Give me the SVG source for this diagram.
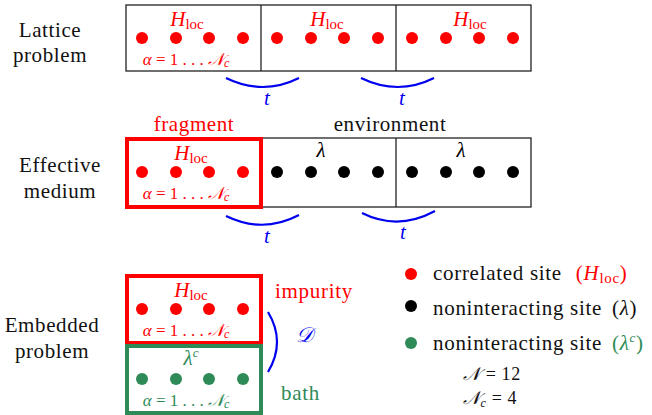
<svg xmlns="http://www.w3.org/2000/svg" width="652" height="415" viewBox="0 0 652 415" font-family="'Liberation Serif', 'DejaVu Serif', serif">
<style>
text{font-family:'Liberation Serif','DejaVu Serif',serif;}
.lbl{font-size:21px;fill:#111;text-anchor:middle;letter-spacing:0.6px;}
.leg{font-size:21px;fill:#111;letter-spacing:0.7px;}
.h{font-size:21px;text-anchor:middle;}
.a{font-size:17px;text-anchor:middle;}
.m{font-style:italic;}
.u{font-style:normal;}
.red{fill:#ff0000;}
.blk{fill:#000;}
.grn{fill:#2e8b57;}
.blue{fill:#0000ee;}
.box{fill:none;stroke:#222;stroke-width:1.3;}
.rbox{fill:none;stroke:#ff0000;stroke-width:4;}
.gbox{fill:none;stroke:#2e8b57;stroke-width:4;}
.arc{fill:none;stroke:#0000ee;stroke-width:2.2;}
.nn{font-size:18px;fill:#111;letter-spacing:0.6px;}
</style>
<defs>
<g id="r4"><circle cx="0" cy="0" r="6"/><circle cx="34" cy="0" r="6"/><circle cx="67" cy="0" r="6"/><circle cx="101" cy="0" r="6"/></g>
</defs>

<g id="labels">
<text class="lbl" x="50" y="37">Lattice</text>
<text class="lbl" x="50" y="62">problem</text>
<text class="lbl" x="60" y="172">Effective</text>
<text class="lbl" x="60" y="198">medium</text>
<text class="lbl" x="52" y="332">Embedded</text>
<text class="lbl" x="52" y="358">problem</text>
</g>

<g id="lattice">
<rect class="box" x="126" y="5" width="405" height="66"/>
<line class="box" x1="261" y1="5" x2="261" y2="71"/>
<line class="box" x1="396" y1="5" x2="396" y2="71"/>
<g class="red">
<use href="#r4" x="142" y="38"/><use href="#r4" x="277" y="38"/><use href="#r4" x="412" y="38"/>
</g>
<text class="h red" x="187" y="26"><tspan class="m">H</tspan><tspan class="u" font-size="15" dy="3">loc</tspan></text>
<text class="h red" x="327" y="26"><tspan class="m">H</tspan><tspan class="u" font-size="15" dy="3">loc</tspan></text>
<text class="h red" x="470" y="26"><tspan class="m">H</tspan><tspan class="u" font-size="15" dy="3">loc</tspan></text>
<text class="a red" x="186" y="65"><tspan class="m">α</tspan> = 1 . . . <tspan class="m">𝒩</tspan><tspan class="m" font-size="12" dy="2">c</tspan></text>
</g>

<g id="effective">
<rect class="box" x="126" y="138" width="405" height="69"/>
<line class="box" x1="396" y1="138" x2="396" y2="207"/>
<rect class="rbox" x="127" y="139" width="134" height="68"/>
<g class="red"><use href="#r4" x="142" y="172"/></g>
<g class="blk"><use href="#r4" x="277" y="172"/><use href="#r4" x="412" y="172"/></g>
<text class="h red" x="191" y="160"><tspan class="m">H</tspan><tspan class="u" font-size="15" dy="3">loc</tspan></text>
<text class="a red" x="186" y="199"><tspan class="m">α</tspan> = 1 . . . <tspan class="m">𝒩</tspan><tspan class="m" font-size="12" dy="2">c</tspan></text>
<text class="h blk m" x="321" y="157">λ</text>
<text class="h blk m" x="461" y="157">λ</text>
<text class="lbl red" x="194" y="131">fragment</text>
<text class="lbl" x="390" y="131">environment</text>
</g>

<g id="embedded">
<rect class="rbox" x="127" y="276" width="134" height="67"/>
<rect class="gbox" x="127" y="346" width="134" height="67"/>
<g class="red"><use href="#r4" x="142" y="309"/></g>
<g class="grn"><use href="#r4" x="142" y="379"/></g>
<text class="h red" x="191" y="297"><tspan class="m">H</tspan><tspan class="u" font-size="15" dy="3">loc</tspan></text>
<text class="a red" x="186" y="336"><tspan class="m">α</tspan> = 1 . . . <tspan class="m">𝒩</tspan><tspan class="m" font-size="12" dy="2">c</tspan></text>
<text class="h grn" x="191" y="365"><tspan class="m">λ</tspan><tspan class="m" font-size="13" dy="-8">c</tspan></text>
<text class="a grn" x="186" y="406"><tspan class="m">α</tspan> = 1 . . . <tspan class="m">𝒩</tspan><tspan class="m" font-size="12" dy="2">c</tspan></text>
<text class="leg red" x="275" y="298">impurity</text>
<text class="leg grn" x="281" y="400">bath</text>
</g>

<g id="legend">
<circle class="red" cx="411" cy="274" r="6"/>
<circle class="blk" cx="411" cy="306" r="6"/>
<circle class="grn" cx="411" cy="343" r="6"/>
<text class="leg" x="433" y="280">correlated site <tspan class="red" dx="8">(<tspan class="m">H</tspan><tspan font-size="15" dy="3">loc</tspan><tspan dy="-3">)</tspan></tspan></text>
<text class="leg" x="433" y="315">noninteracting site <tspan dx="4">(<tspan class="m">λ</tspan>)</tspan></text>
<text class="leg" x="433" y="350">noninteracting site <tspan class="grn" dx="4">(<tspan class="m">λ</tspan><tspan class="m" font-size="13" dy="-8">c</tspan><tspan dy="8">)</tspan></tspan></text>
<text class="nn" x="463" y="380"><tspan class="m">𝒩</tspan> = 12</text>
<text class="nn" x="463" y="404"><tspan class="m">𝒩</tspan><tspan class="m" font-size="12" dy="3">c</tspan><tspan dy="-3"> = 4</tspan></text>
</g>

<g id="connectors">
<path class="arc" d="M226,78 Q263,96 299,78"/>
<path class="arc" d="M361,78 Q398,96 434,78"/>
<path class="arc" d="M226,216 Q263,234 299,215"/>
<path class="arc" d="M362,213 Q398,231 435,211"/>
<path class="arc" d="M268,312 Q286,342 268,372"/>
<text class="h blue m" x="267" y="105">t</text>
<text class="h blue m" x="402" y="105">t</text>
<text class="h blue m" x="267" y="243">t</text>
<text class="h blue m" x="403" y="239">t</text>
<text class="h blue m" x="304" y="342">𝒟</text>
</g>
</svg>
